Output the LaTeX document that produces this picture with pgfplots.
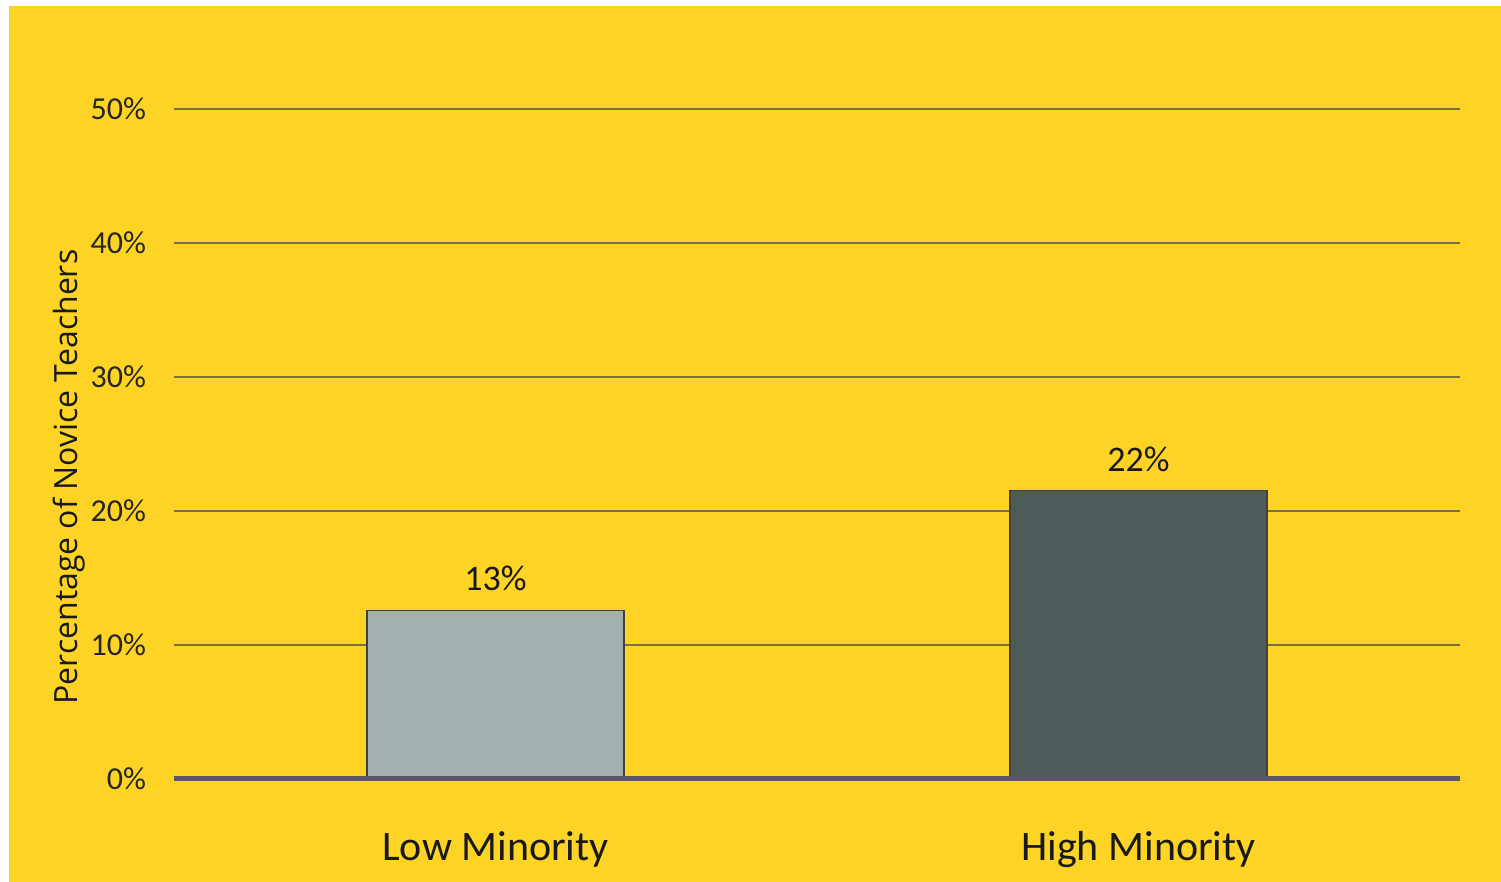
\documentclass[border=0pt]{standalone}
\usepackage{fontspec}
\setmainfont{Carlito}
\newfontfamily\osans{Open Sans}
\usepackage{pgfplots}
\pgfplotsset{compat=1.18}
\definecolor{bgyellow}{HTML}{FDD426}
\definecolor{barlow}{HTML}{A2B0B0}
\definecolor{barhigh}{HTML}{4D5B5B}
\definecolor{axisc}{HTML}{5A5A5A}
\definecolor{gridc}{HTML}{7A7048}
\begin{document}
\begin{tikzpicture}
\fill[white] (0pt,0pt) rectangle (750.5pt,441pt);
\fill[bgyellow] (4.5pt,0pt) rectangle (750.5pt,438pt);
\begin{axis}[
  at={(87pt,51.5pt)}, anchor=south west,
  scale only axis, width=643pt, height=335pt,
  xmin=-0.5, xmax=1.5, ymin=0, ymax=50,
  axis line style={draw=none},
  tick style={draw=none},
  ytick={0,10,...,50},
  yticklabel={\pgfmathprintnumber{\tick}\%},
  /pgf/number format/assume math mode=true,
  yticklabel style={font=\fontsize{16}{18}\selectfont, text=black!85, xshift=-10.5pt},
  ymajorgrids, grid style={gridc, line width=0.6pt},
  xtick={0,1}, xticklabels={Low Minority, High Minority},
  xticklabel style={font=\fontsize{21}{24}\selectfont, text=black!90, yshift=-18.5pt},
  ylabel={Percentage of Novice Teachers},
  ylabel style={at={(axis description cs:-0.0815,0.4507)}, anchor=center, font=\osans\fontsize{16}{18}\selectfont, text=black!90},
  ybar, bar width=128.5pt,
  point meta=explicit symbolic,
  nodes near coords={\pgfplotspointmeta},
  nodes near coords style={anchor=center, yshift=16pt, font=\fontsize{18}{20}\selectfont, text=black!90},
  clip=false,
]
\addplot[fill=barlow, draw=black!75, line width=0.6pt, bar shift=0pt] coordinates {(0,12.6) [13\%]};
\addplot[fill=barhigh, draw=black!75, line width=0.6pt, bar shift=0pt] coordinates {(1,21.5) [22\%]};
\draw[axisc, line width=2.5pt] (rel axis cs:0,0) -- (rel axis cs:1,0);
\end{axis}
\end{tikzpicture}
\end{document}
